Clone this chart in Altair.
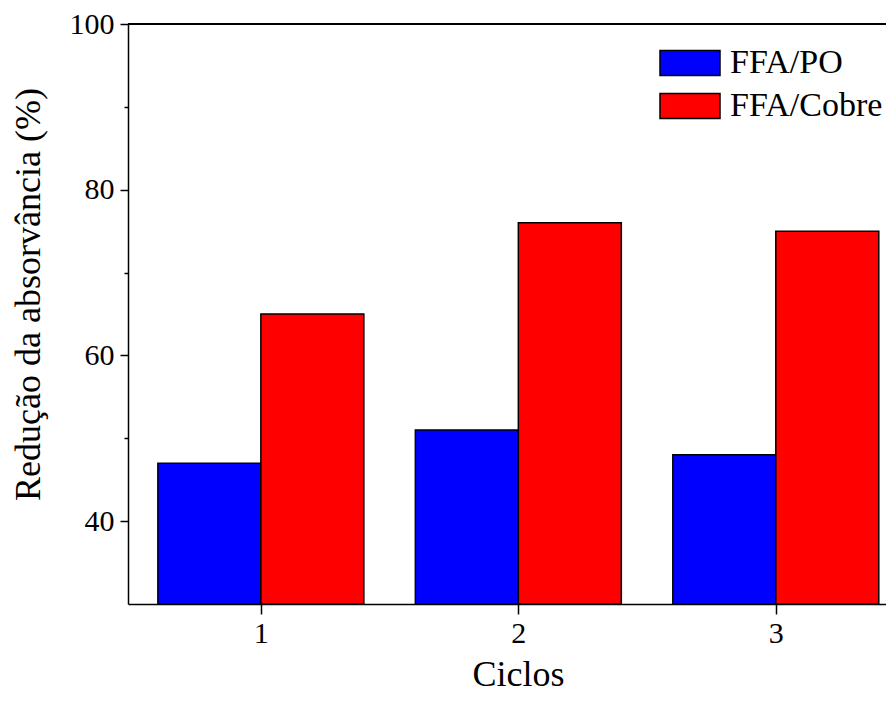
import altair as alt
import pandas as pd

# ---- data ----
cycles = [1, 2, 3]
ffa_po = [47, 51, 48]
ffa_cobre = [65, 76, 75]
series = ["FFA/PO", "FFA/Cobre"]
colors = ["#0000FF", "#FF0000"]
y_ticks = [40, 50, 60, 70, 80, 90, 100]

rows = []
for c, v in zip(cycles, ffa_po):
    rows.append({"ciclo": c, "serie": series[0], "valor": v, "lado": -1})
for c, v in zip(cycles, ffa_cobre):
    rows.append({"ciclo": c, "serie": series[1], "valor": v, "lado": 0})
df = pd.DataFrame(rows)

FONT = "Liberation Serif"

xscale = alt.Scale(domain=[0.484, 3.428], nice=False, zero=False)
yscale = alt.Scale(domain=[30, 100], nice=False, zero=False)

base = alt.Chart(df).transform_calculate(
    x0="datum.ciclo + datum.lado * 0.4",
    x1="datum.ciclo + (datum.lado + 1) * 0.4",
)

bars = base.mark_bar(stroke="black", strokeWidth=1.5, opacity=1).encode(
    x=alt.X(
        "x0:Q",
        scale=xscale,
        title="Ciclos",
        axis=alt.Axis(
            values=cycles,
            format="d",
            tickSize=10,
            labelPadding=4,
            titlePadding=9,
            titleX=390,
        ),
    ),
    x2="x1:Q",
    y=alt.Y(
        "valor:Q",
        scale=yscale,
        title="Redução da absorvância (%)",
        axis=alt.Axis(
            values=y_ticks,
            labelExpr="datum.value % 20 === 0 ? datum.label : ''",
            tickSize={"condition": {"test": "datum.value % 20 === 0", "value": 8}, "value": 4},
            labelPadding=6,
            titlePadding=22,
            titleY=270,
        ),
    ),
    y2=alt.datum(30),
    color=alt.Color(
        "serie:N",
        scale=alt.Scale(domain=series, range=colors),
        legend=alt.Legend(
            title=None,
            orient="none",
            legendX=545,
            legendY=22,
            padding=0,
            symbolType="M-2.4,-1L2.4,-1L2.4,1L-2.4,1Z",
            symbolSize=625,
            symbolStrokeColor="black",
            symbolStrokeWidth=1.5,
            symbolOpacity=1,
            rowPadding=9,
            labelOffset=23,
            labelFont=FONT,
            labelFontSize=34,
            labelColor="black",
            labelLimit=0,
        ),
    ),
)

top_line = alt.Chart(df).mark_rule(color="black", strokeWidth=1.5).encode(
    y=alt.datum(100)
)

chart = (
    alt.layer(bars, top_line)
    .properties(
        width=758,
        height=580,
        background="white",
        autosize=alt.AutoSizeParams(type="none"),
        padding={"left": 120, "top": 16, "right": 0, "bottom": 88},
    )
    .configure_view(stroke=None)
    .configure_axis(
        grid=False,
        domainColor="black",
        domainWidth=1.5,
        tickColor="black",
        tickWidth=1.5,
        labelFont=FONT,
        labelFontSize=30,
        labelColor="black",
        titleFont=FONT,
        titleFontSize=36,
        titleFontWeight="normal",
        titleColor="black",
    )
)

chart.save("out.html", embed_options={"renderer": "svg", "actions": False})
